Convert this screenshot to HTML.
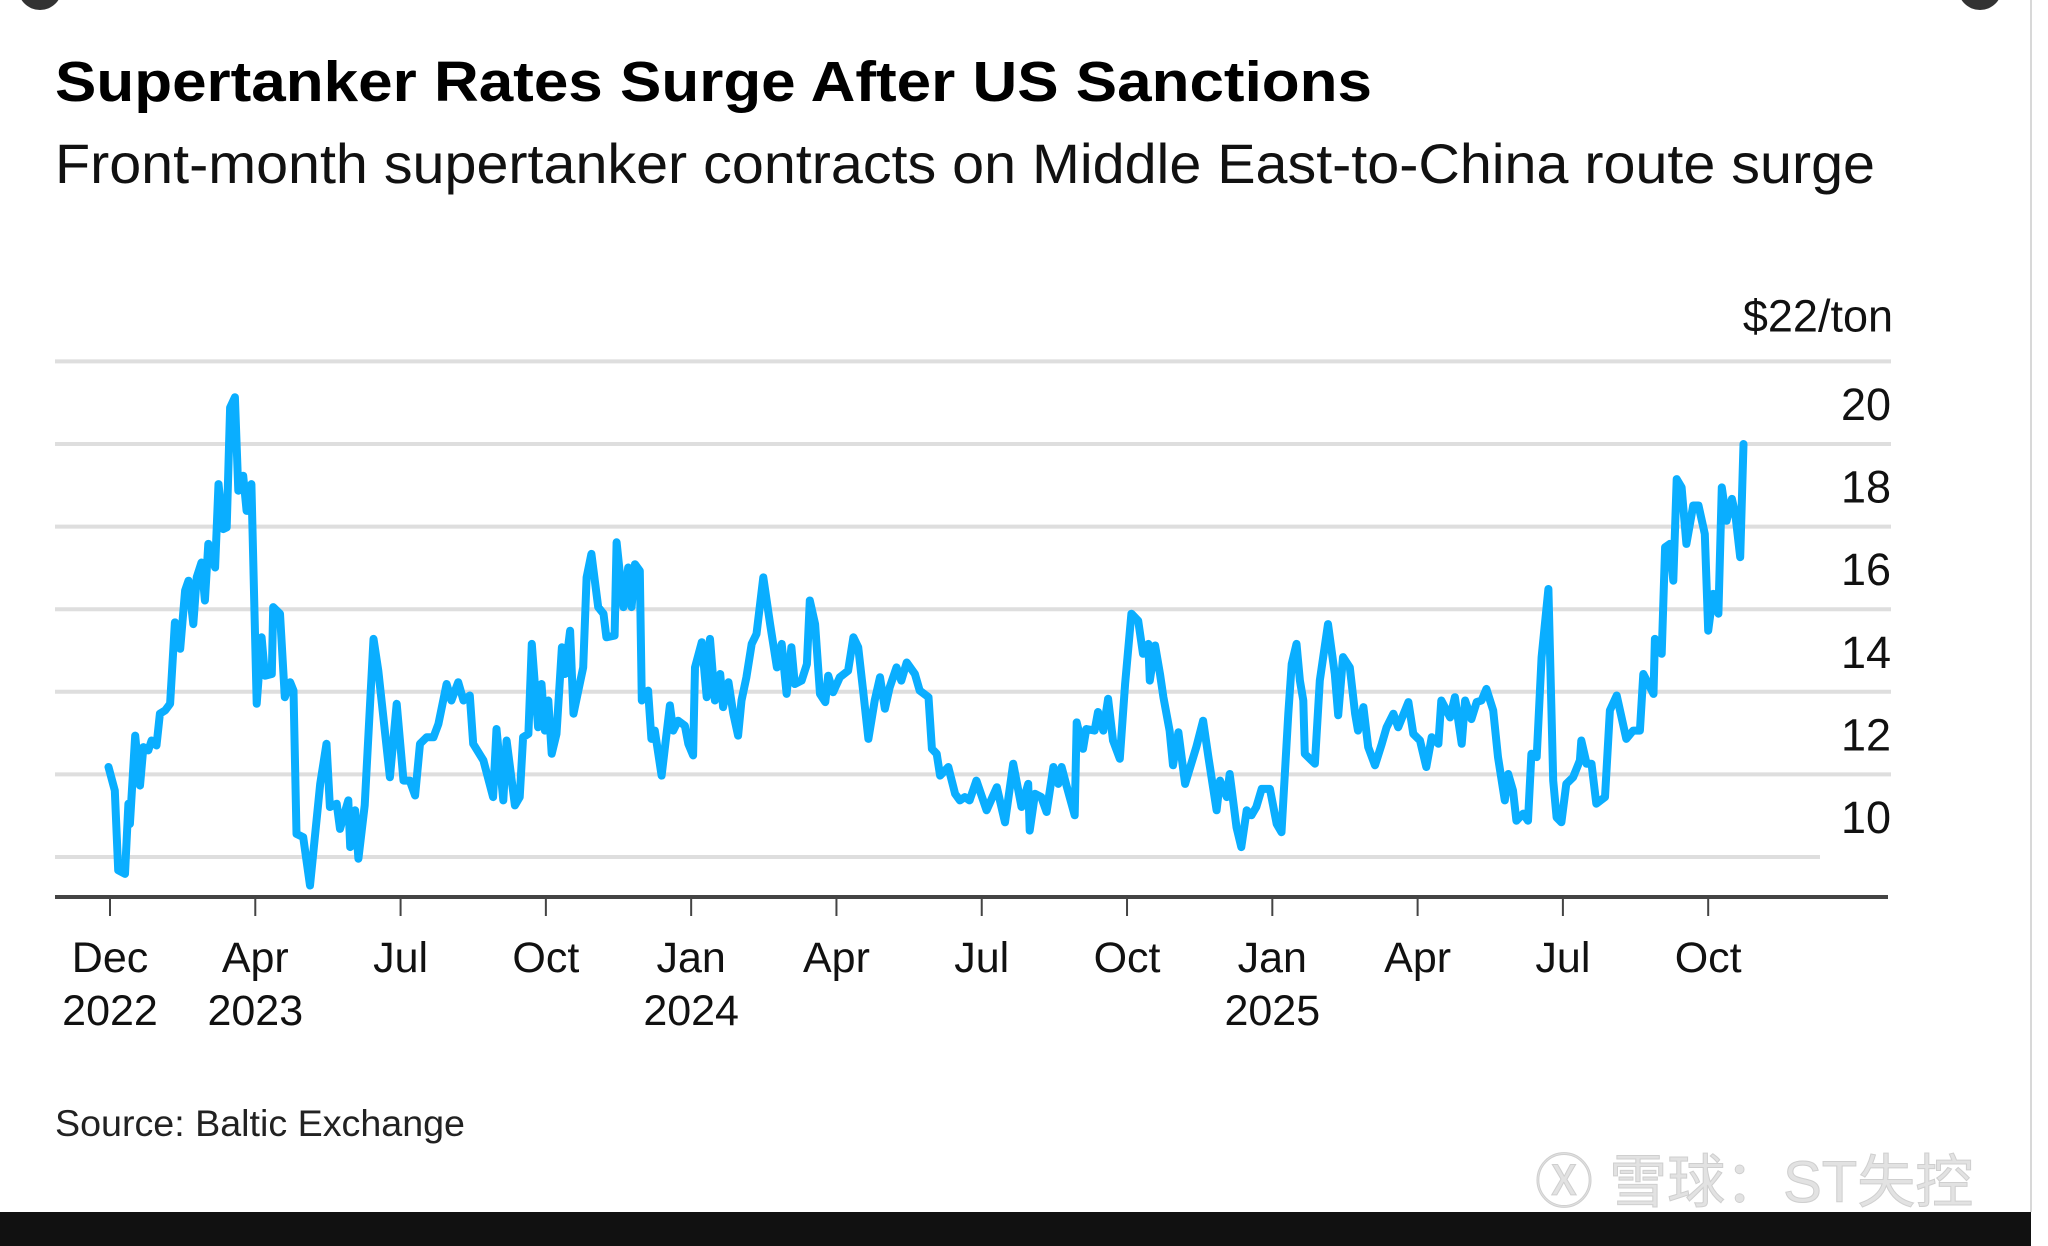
<!DOCTYPE html>
<html>
<head>
<meta charset="utf-8">
<style>
  html,body{margin:0;padding:0;background:#fff;}
  svg{display:block;}
  text{font-family:"Liberation Sans",Arial,sans-serif;}
</style>
</head>
<body>
<svg id="chart" width="2048" height="1246" viewBox="0 0 2048 1246" xmlns="http://www.w3.org/2000/svg">
  <rect x="0" y="0" width="2048" height="1246" fill="#ffffff"/>
  <circle cx="40" cy="-12" r="22" fill="#333"/>
  <circle cx="1980" cy="-12" r="22" fill="#333"/>
  <line x1="2031" y1="0" x2="2031" y2="1212" stroke="#d8d8d8" stroke-width="2"/>
  <text x="55" y="101" font-size="57" font-weight="bold" fill="#000" textLength="1317" lengthAdjust="spacingAndGlyphs">Supertanker Rates Surge After US Sanctions</text>
  <text x="55" y="183" font-size="56" fill="#111" textLength="1820" lengthAdjust="spacingAndGlyphs">Front-month supertanker contracts on Middle East-to-China route surge</text>
  <g id="grid"></g>
  <g id="yaxis"></g>
  <g id="xaxis"></g>
  <g id="series"></g>
  <text x="55" y="1136" font-size="37" fill="#222" textLength="410" lengthAdjust="spacingAndGlyphs">Source: Baltic Exchange</text>
  <text x="1535" y="1202" font-size="58" fill="#e2e2e2" stroke="#cfcfcf" stroke-width="1" font-family="'Liberation Sans','Noto Sans CJK SC',sans-serif">Ⓧ 雪球：ST失控</text>
  <rect x="0" y="1212" width="2031" height="34" fill="#111"/>
</svg>
<script>
// ---- data (months since the first "Dec 2022" tick, value in $/ton) ----
const yTicks = [10, 12, 14, 16, 18, 20];
const yTopValue = 22;
const xTickMonths = [0, 3, 6, 9, 12, 15, 18, 21, 24, 27, 30, 33];
const xTickMonthLabels = ["Dec","Apr","Jul","Oct","Jan","Apr","Jul","Oct","Jan","Apr","Jul","Oct"];
const xTickYearLabels = ["2022","2023","","","2024","","","","2025","","",""];
const months = [-0.03,0.10,0.17,0.31,0.38,0.41,0.52,0.62,0.69,0.79,0.86,0.96,1.03,1.14,1.24,1.34,1.45,1.55,1.62,1.72,1.79,1.89,1.96,2.03,2.17,2.24,2.34,2.41,2.48,2.58,2.65,2.75,2.82,2.92,3.03,3.13,3.20,3.34,3.37,3.51,3.61,3.72,3.79,3.85,3.99,4.13,4.34,4.47,4.54,4.68,4.75,4.92,4.96,5.06,5.13,5.26,5.44,5.54,5.78,5.92,6.06,6.19,6.30,6.40,6.54,6.68,6.78,6.95,7.05,7.19,7.30,7.43,7.50,7.71,7.91,7.98,8.12,8.19,8.36,
8.46,8.53,8.64,8.71,8.84,8.91,8.98,9.05,9.12,9.22,9.33,9.39,9.50,9.57,9.67,9.77,9.84,9.94,10.08,10.19,10.25,10.42,10.46,10.60,10.70,10.77,10.84,10.94,10.98,11.11,11.18,11.25,11.39,11.56,11.63,11.73,11.87,11.94,12.04,12.08,12.22,12.32,12.39,12.49,12.60,12.66,12.77,12.87,12.97,13.04,13.14,13.25,13.35,13.49,13.63,13.77,13.87,13.97,14.07,14.14,14.28,14.39,14.45,14.56,14.66,14.77,14.83,14.93,15.07,15.24,15.35,15.45,15.55,15.66,15.79,15.90,16.00,16.10,16.24,16.34,16.45,16.62,16.72,16.90,16.97,17.07,17.14,17.31,17.45,17.55,
17.65,17.75,17.89,18.10,18.31,18.48,18.65,18.82,18.96,18.99,19.10,19.23,19.34,19.48,19.58,19.65,19.75,19.92,19.96,20.09,20.16,20.33,20.40,20.51,20.61,20.71,20.85,20.96,21.09,21.23,21.33,21.44,21.47,21.58,21.68,21.75,21.88,21.95,22.06,22.20,22.43,22.57,22.68,22.85,22.92,23.06,23.12,23.26,23.36,23.47,23.57,23.67,23.78,23.95,24.09,24.19,24.33,24.40,24.50,24.57,24.64,24.67,24.88,24.98,25.15,25.29,25.36,25.46,25.60,25.71,25.77,25.88,25.98,26.12,26.26,26.36,
26.50,26.60,26.81,26.91,27.05,27.18,27.29,27.43,27.49,27.67,27.77,27.91,27.98,28.11,28.22,28.32,28.42,28.56,28.66,28.80,28.87,28.97,29.04,29.18,29.28,29.35,29.46,29.56,29.70,29.80,29.87,29.97,30.07,30.21,30.35,30.38,30.49,30.59,30.69,30.87,30.97,31.11,31.31,31.45,31.59,31.66,31.80,31.87,31.90,32.04,32.11,32.21,32.28,32.35,32.45,32.55,32.69,32.80,32.93,33.00,33.10,33.21,33.28,33.38,33.49,33.56,33.66,33.73];
const rates = [12.18,11.61,9.68,9.59,11.29,10.80,12.94,11.73,12.66,12.58,12.82,12.70,13.47,13.55,13.71,15.68,15.04,16.45,16.69,15.64,16.77,17.13,16.21,17.58,17.01,19.03,17.94,17.98,20.88,21.13,18.87,19.23,18.38,19.03,13.71,15.32,14.39,14.43,16.05,15.89,13.87,14.23,14.03,10.56,10.48,9.31,11.77,12.74,11.21,11.29,10.68,11.37,10.24,11.13,9.96,11.25,15.28,14.51,11.93,13.71,11.85,11.85,11.49,12.74,12.90,12.90,13.22,14.19,13.79,14.23,13.79,13.91,12.74,12.34,11.45,13.10,11.37,12.82,11.25,
11.45,12.90,12.98,15.16,13.14,14.19,13.06,13.79,12.50,12.98,15.08,14.43,15.48,13.47,14.03,14.59,16.77,17.34,16.05,15.89,15.32,15.36,17.62,16.05,17.01,16.05,17.09,16.93,13.79,14.03,12.86,13.06,11.97,13.67,13.06,13.30,13.18,12.74,12.46,14.59,15.20,13.87,15.28,13.79,14.43,13.63,14.23,13.47,12.94,13.79,14.35,15.16,15.40,16.77,15.64,14.59,15.16,13.95,15.08,14.19,14.27,14.67,16.21,15.64,13.95,13.75,14.39,13.99,14.35,14.51,15.32,15.08,14.03,12.86,13.79,14.35,13.59,14.11,14.59,14.27,14.71,14.43,14.03,13.87,12.62,12.50,11.97,12.18,11.53,11.37,
11.45,11.37,11.85,11.13,11.69,10.84,12.26,11.21,11.77,10.64,11.53,11.45,11.09,12.18,11.77,12.18,11.73,11.01,13.26,12.62,13.10,13.06,13.51,13.06,13.83,12.82,12.38,14.19,15.89,15.72,14.92,15.16,14.27,15.12,14.43,13.87,13.06,12.22,13.02,11.77,12.66,13.30,12.42,11.13,11.85,11.45,12.01,10.72,10.24,11.13,11.01,11.21,11.65,11.65,10.80,10.60,13.47,14.67,15.16,14.27,13.79,12.50,12.26,14.27,15.64,14.43,13.43,14.84,14.59,13.47,13.06,13.63,12.66,12.22,12.74,13.14,
13.47,13.14,13.75,12.98,12.82,12.18,12.90,12.74,13.79,13.38,13.87,12.74,13.79,13.34,13.75,13.79,14.07,13.55,12.42,11.37,12.01,11.61,10.88,11.05,10.88,12.50,12.42,14.84,16.49,11.85,10.96,10.84,11.77,11.93,12.34,12.82,12.26,12.26,11.29,11.45,13.55,13.91,12.86,13.06,13.06,14.43,14.11,13.95,15.28,14.92,17.50,17.58,16.69,19.15,18.95,17.58,18.51,18.51,17.82,15.48,16.37,15.89,18.95,18.14,18.67,18.30,17.26,20.00];

// ---- layout ----
const NS = "http://www.w3.org/2000/svg";
const X0 = 110, PX_PER_MONTH = 48.43;
const Y10 = 857, PX_PER_UNIT = 41.3;
const xScale = m => X0 + m * PX_PER_MONTH;
const yScale = v => Y10 - (v - 10) * PX_PER_UNIT;
const gridL = 55, gridR = 1891, axisY = 897;

function mk(tag, attrs, parent){
  const el = document.createElementNS(NS, tag);
  for (const k in attrs) el.setAttribute(k, attrs[k]);
  parent.appendChild(el);
  return el;
}
const grid = document.getElementById('grid');
const yaxis = document.getElementById('yaxis');
const xaxis = document.getElementById('xaxis');
const series = document.getElementById('series');

// gridlines + y labels
const allGrid = yTicks.concat([yTopValue]);
allGrid.forEach((v, i) => {
  const y = yScale(v);
  const ln = mk('line', {x1: gridL, x2: i === 0 ? 1820 : gridR, y1: y, y2: y, stroke: '#dedede', 'stroke-width': 4}, grid);
  
  
});
yTicks.forEach(v => {
  const t = mk('text', {x: 1891, y: yScale(v) - 24, 'font-size': 45, 'text-anchor': 'end', fill: '#111'}, yaxis);
  t.textContent = String(v);
  
  
});
const unit = mk('text', {x: 1893, y: yScale(yTopValue) - 30, 'font-size': 45, 'text-anchor': 'end', fill: '#111'}, yaxis);
unit.textContent = '$' + yTopValue + '/ton';



// x axis
const axl = mk('line', {x1: gridL, x2: 1888, y1: axisY, y2: axisY, stroke: '#444', 'stroke-width': 4}, xaxis);


xTickMonths.forEach((m, i) => {
  const x = xScale(m);
  const tk = mk('line', {x1: x, x2: x, y1: axisY, y2: axisY + 19, stroke: '#444', 'stroke-width': 2}, xaxis);
  
  
  const t = mk('text', {x: x, y: 972, 'font-size': 43, 'text-anchor': 'middle', fill: '#111'}, xaxis);
  t.textContent = xTickMonthLabels[i];
  
  
  if (xTickYearLabels[i]) {
    const ty = mk('text', {x: x, y: 1025, 'font-size': 43, 'text-anchor': 'middle', fill: '#111'}, xaxis);
    ty.textContent = xTickYearLabels[i];
    
    
  }
});

// series line
const pts = months.map((m, i) => xScale(m).toFixed(1) + ',' + yScale(rates[i]).toFixed(1)).join(' ');
const pl = mk('polyline', {points: pts, fill: 'none', stroke: '#0aaeff', 'stroke-width': 8, 'stroke-linejoin': 'round', 'stroke-linecap': 'round'}, series);


</script>
</body>
</html>
